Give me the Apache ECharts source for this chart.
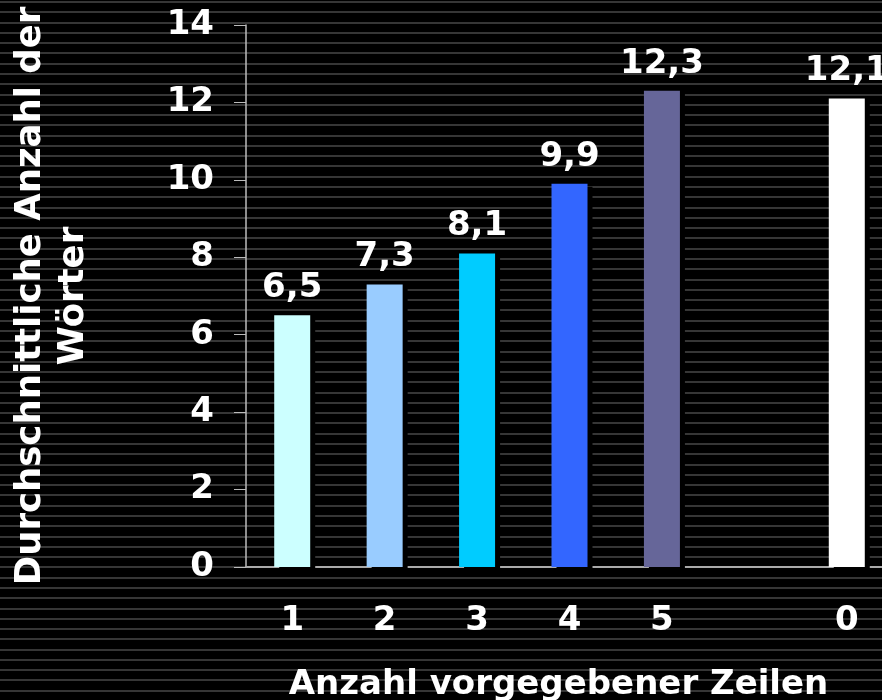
<!DOCTYPE html>
<html>
<head>
<meta charset="utf-8">
<script src="https://cdn.jsdelivr.net/npm/echarts@6/dist/echarts.min.js"></script>
<style>
html, body { margin: 0; padding: 0; }
body {
    background: repeating-linear-gradient(to bottom, #000 0px, #000 1px, #363636 1px, #363636 3px, #000 3px, #000 10.28px);
}
#chart { width: 882px; height: 700px; }
</style>
</head>
<body>
<div id="chart"></div>
<script>
// Kategorien und Werte
var categories = ['1', '2', '3', '4', '5', '', '0'];
var values = [6.5, 7.3, 8.1, 9.9, 12.3, '-', 12.1];
var barColors = ['#CCFFFF', '#99CCFF', '#00CCFF', '#3366FF', '#666699', '#000000', '#FFFFFF'];
var yTicks = [0, 2, 4, 6, 8, 10, 12, 14];

var fontFam = 'DejaVu Sans';
var myChart = echarts.init(document.getElementById('chart'));

var seriesData = values.map(function(v, i) {
    return {
        value: v,
        itemStyle: { color: barColors[i] }
    };
});

var option = {
    backgroundColor: 'transparent',
    animation: false,
    grid: {
        left: 246,
        top: 25,
        bottom: 133,
        right: -11,
        containLabel: false,
        outerBoundsMode: 'none'
    },
    xAxis: {
        type: 'category',
        data: categories,
        name: 'Anzahl vorgegebener Zeilen',
        nameLocation: 'middle',
        nameGap: 101,
        nameTextStyle: {
            color: '#fff',
            fontFamily: fontFam,
            fontWeight: 'bold',
            fontSize: 34,
            padding: [0, 22, 0, 0]
        },
        axisLine: { lineStyle: { color: '#aaaaaa', width: 2 } },
        axisTick: { length: 11, lineStyle: { color: '#aaaaaa', width: 1 } },
        axisLabel: {
            color: '#fff',
            fontFamily: fontFam,
            fontWeight: 'bold',
            fontSize: 34,
            margin: 37
        }
    },
    yAxis: {
        type: 'value',
        min: 0,
        max: 14,
        interval: 2,
        name: 'Durchschnittliche Anzahl der\nWörter',
        nameLocation: 'middle',
        nameRotate: 90,
        nameGap: 151,
        nameTextStyle: {
            color: '#fff',
            fontFamily: fontFam,
            fontWeight: 'bold',
            fontSize: 35.5,
            lineHeight: 43
        },
        axisLine: { show: true, lineStyle: { color: '#bbbbbb', width: 1.5 } },
        axisTick: { show: true, length: 12, lineStyle: { color: '#bbbbbb', width: 1 } },
        splitLine: { show: false },
        axisLabel: {
            color: '#fff',
            fontFamily: fontFam,
            fontWeight: 'bold',
            fontSize: 34,
            margin: 32,
            formatter: function(v) {
                return yTicks.indexOf(v) >= 0 ? String(v) : '';
            }
        }
    },
    series: [{
        type: 'bar',
        data: seriesData,
        barWidth: 36,
        itemStyle: {
            shadowColor: '#000',
            shadowBlur: 0,
            shadowOffsetX: 5,
            shadowOffsetY: 3
        },
        label: {
            show: true,
            position: 'top',
            distance: 10,
            color: '#fff',
            fontFamily: fontFam,
            fontWeight: 'bold',
            fontSize: 34,
            formatter: function(p) {
                return String(p.value).replace('.', ',');
            }
        }
    }]
};
myChart.setOption(option);
</script>
</body>
</html>
